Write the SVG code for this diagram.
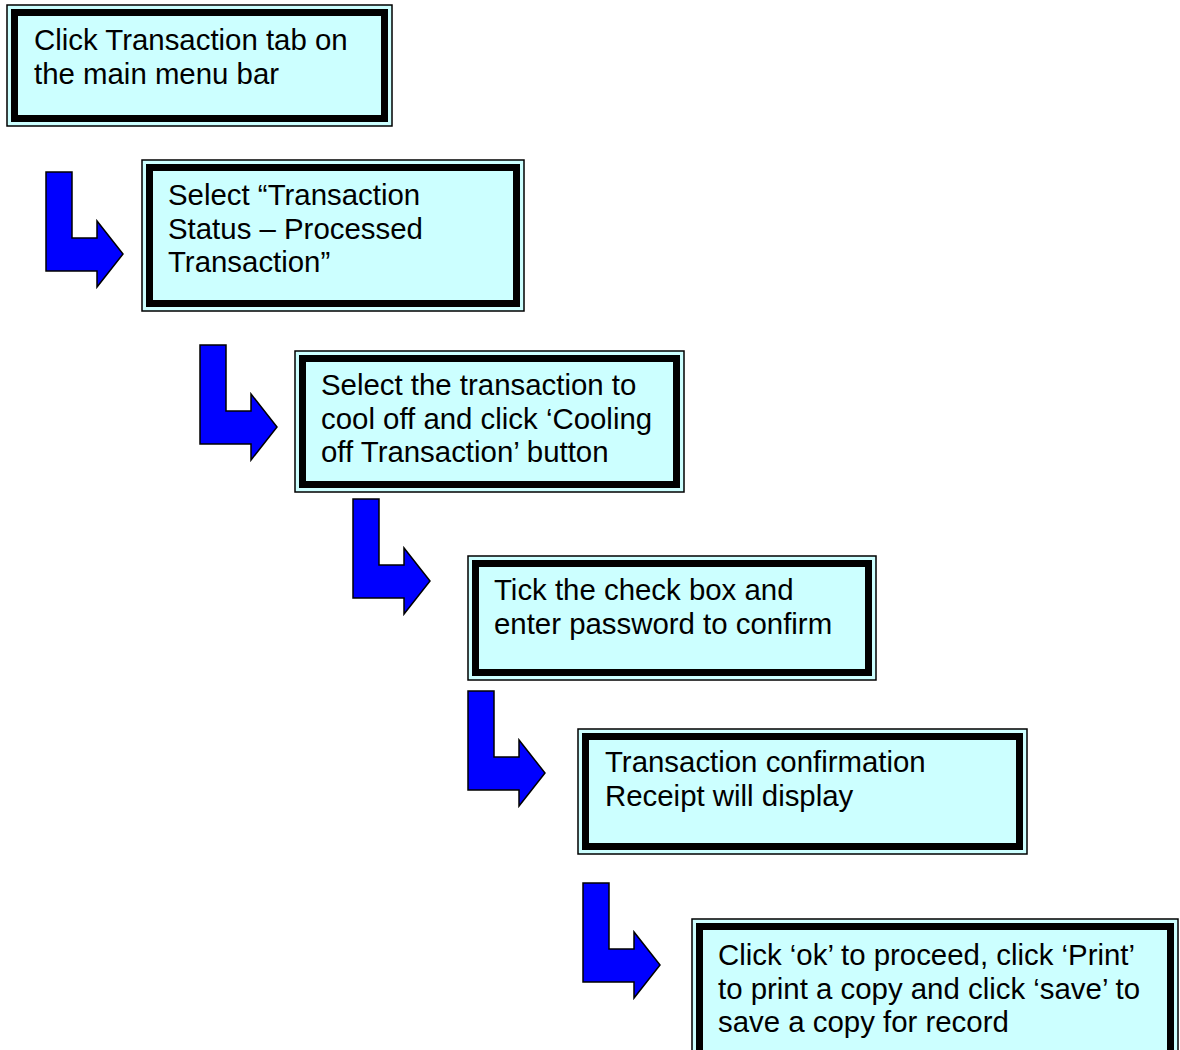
<svg xmlns="http://www.w3.org/2000/svg" xmlns:xlink="http://www.w3.org/1999/xlink" width="1180" height="1050" viewBox="0 0 1180 1050">
<style>
.outer{fill:#CCFFFF;stroke:#000;stroke-width:1.5}
.inner{fill:none;stroke:#000;stroke-width:7}
.t{font-family:"Liberation Sans",Arial,sans-serif;font-size:29.4px;fill:#000}
.arr{fill:#0000FF;stroke:#000;stroke-width:1.5;stroke-linejoin:miter}
</style>
<defs>
<path id="larrow" class="arr" d="M0,0 H26 V66 H51 V49 L77,82 L51,115 V99 H0 Z"/>
</defs>
<rect width="1180" height="1050" fill="#fff"/>
<g id="connectors">
<use xlink:href="#larrow" href="#larrow" transform="translate(46,172)"/>
<use xlink:href="#larrow" href="#larrow" transform="translate(200,345)"/>
<use xlink:href="#larrow" href="#larrow" transform="translate(353,499)"/>
<use xlink:href="#larrow" href="#larrow" transform="translate(468,691)"/>
<use xlink:href="#larrow" href="#larrow" transform="translate(583,883)"/>
</g>
<g id="node1">
<rect class="outer" x="7" y="5" width="385" height="121"/>
<rect class="inner" x="14.5" y="12.5" width="370" height="106"/>
<text class="t" x="34" y="50">Click Transaction tab on</text>
<text class="t" x="34" y="83.5">the main menu bar</text>
</g>
<g id="node2">
<rect class="outer" x="142" y="160" width="382" height="151"/>
<rect class="inner" x="149.5" y="167.5" width="367" height="136"/>
<text class="t" x="168" y="205">Select “Transaction</text>
<text class="t" x="168" y="238.5">Status – Processed</text>
<text class="t" x="168" y="272">Transaction”</text>
</g>
<g id="node3">
<rect class="outer" x="295" y="351" width="389" height="141"/>
<rect class="inner" x="302.5" y="358.5" width="374" height="126"/>
<text class="t" x="321" y="395">Select the transaction to</text>
<text class="t" x="321" y="428.5">cool off and click ‘Cooling</text>
<text class="t" x="321" y="462">off Transaction’ button</text>
</g>
<g id="node4">
<rect class="outer" x="468" y="556" width="408" height="124"/>
<rect class="inner" x="475.5" y="563.5" width="393" height="109"/>
<text class="t" x="494" y="600">Tick the check box and</text>
<text class="t" x="494" y="633.5">enter password to confirm</text>
</g>
<g id="node5">
<rect class="outer" x="578" y="729" width="449" height="125"/>
<rect class="inner" x="585.5" y="736.5" width="434" height="110"/>
<text class="t" x="605" y="772">Transaction confirmation</text>
<text class="t" x="605" y="805.5">Receipt will display</text>
</g>
<g id="node6">
<rect class="outer" x="692" y="919" width="486" height="150"/>
<rect class="inner" x="699.5" y="926.5" width="471" height="135"/>
<text class="t" x="718" y="965">Click ‘ok’ to proceed, click ‘Print’</text>
<text class="t" x="718" y="998.5">to print a copy and click ‘save’ to</text>
<text class="t" x="718" y="1032">save a copy for record</text>
</g>
</svg>
